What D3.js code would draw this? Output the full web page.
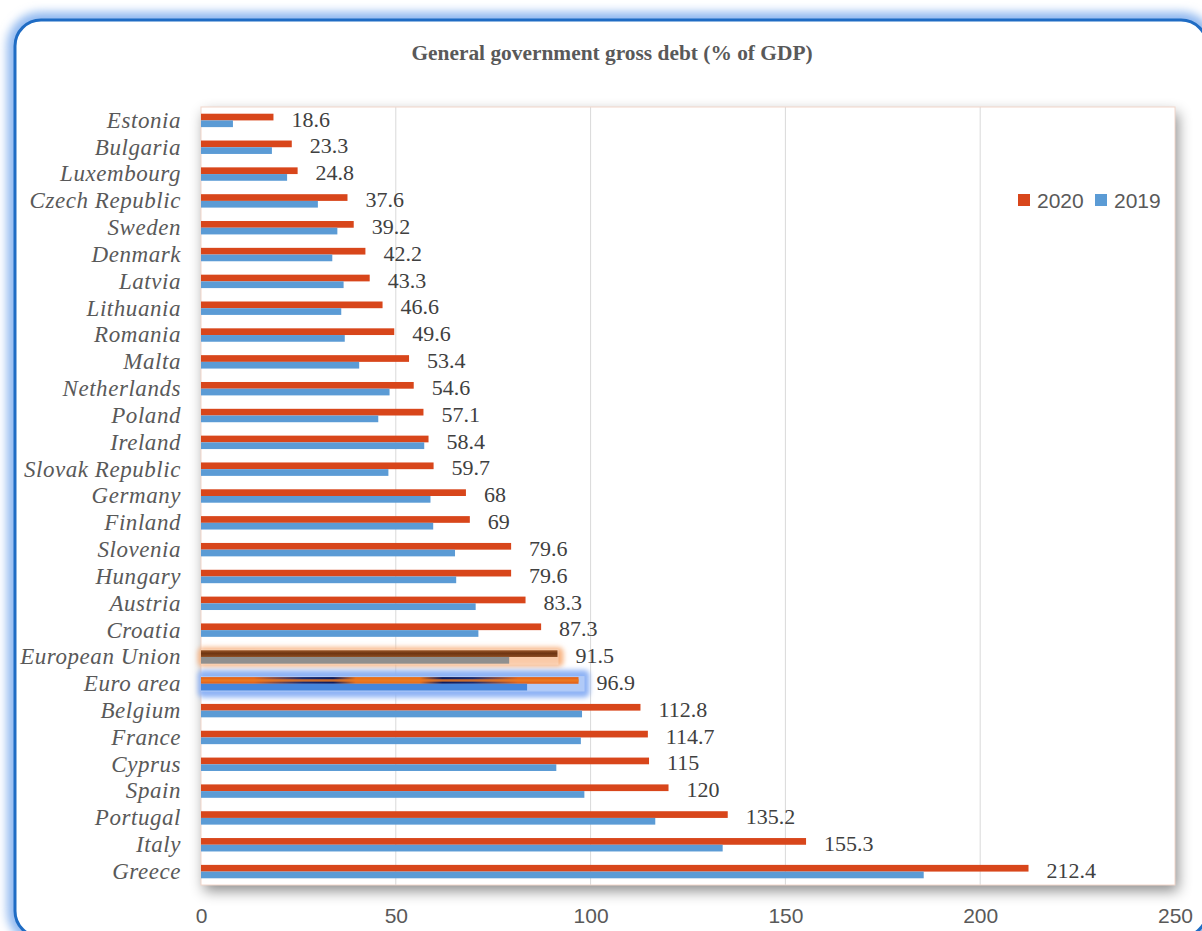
<!DOCTYPE html>
<html>
<head>
<meta charset="utf-8">
<script src="https://cdn.jsdelivr.net/npm/d3@7"></script>
<style>
  body { margin: 0; background: #ffffff; }
  svg { display: block; }
</style>
</head>
<body>
<script>
// General government gross debt, % of GDP
const categories = [
  "Estonia", "Bulgaria", "Luxembourg", "Czech Republic", "Sweden", "Denmark",
  "Latvia", "Lithuania", "Romania", "Malta", "Netherlands", "Poland", "Ireland",
  "Slovak Republic", "Germany", "Finland", "Slovenia", "Hungary", "Austria",
  "Croatia", "European Union", "Euro area", "Belgium", "France", "Cyprus",
  "Spain", "Portugal", "Italy", "Greece"
];
const debt2020 = [
  18.6, 23.3, 24.8, 37.6, 39.2, 42.2, 43.3, 46.6, 49.6, 53.4, 54.6, 57.1, 58.4,
  59.7, 68, 69, 79.6, 79.6, 83.3, 87.3, 91.5, 96.9, 112.8, 114.7, 115, 120,
  135.2, 155.3, 212.4
];
const debt2019 = [
  8.2, 18.2, 22.1, 30.0, 35.0, 33.7, 36.6, 36.0, 36.9, 40.6, 48.4, 45.5, 57.3,
  48.1, 58.9, 59.6, 65.2, 65.5, 70.5, 71.2, 79.1, 83.7, 97.8, 97.5, 91.2, 98.4,
  116.6, 133.9, 185.5
];
const seriesNames = ["2020", "2019"];
const xTicks = [0, 50, 100, 150, 200, 250];
const chartTitle = "General government gross debt (% of GDP)";

const W = 1202, H = 931;
const plot = { left: 201, right: 1175, top: 107, bottom: 885 };
const serif = "'Liberation Serif', 'Times New Roman', serif";
const sans = "'Liberation Sans', Arial, sans-serif";
const colors = { "2020": "#d8461b", "2019": "#5b9bd5" };

const rows = categories.map((c, i) => ({ name: c, "2020": debt2020[i], "2019": debt2019[i] }));

const svg = d3.select("body").append("svg").attr("width", W).attr("height", H);
const defs = svg.append("defs");

// soft blur used for the frame glow and row highlights
defs.append("filter").attr("id", "soft").attr("x", "-10%").attr("y", "-10%")
  .attr("width", "120%").attr("height", "120%")
  .append("feGaussianBlur").attr("stdDeviation", 5);

defs.append("filter").attr("id", "rowGlow").attr("x", "-20%").attr("y", "-100%")
  .attr("width", "140%").attr("height", "300%")
  .append("feGaussianBlur").attr("stdDeviation", 2.5);

const shadow = defs.append("filter").attr("id", "plotShadow")
  .attr("x", "-5%").attr("y", "-5%").attr("width", "112%").attr("height", "114%");
shadow.append("feDropShadow").attr("dx", 3).attr("dy", 6).attr("stdDeviation", 7)
  .attr("flood-color", "#000").attr("flood-opacity", 0.45);

// brown gradient for the EU 2020 bar
const gEU = defs.append("linearGradient").attr("id", "euRed").attr("x1", 0).attr("x2", 0).attr("y1", 0).attr("y2", 1);
gEU.append("stop").attr("offset", "0%").attr("stop-color", "#9a5628");
gEU.append("stop").attr("offset", "45%").attr("stop-color", "#6e3512");
gEU.append("stop").attr("offset", "100%").attr("stop-color", "#8a4a20");

// orange/navy gradient for the euro area 2020 bar
const gEA = defs.append("linearGradient").attr("id", "eaRed").attr("x1", 0).attr("x2", 1).attr("y1", 0).attr("y2", 0);
[[0, "#e4661c"], [0.14, "#e4661c"], [0.27, "#1a2a6e"], [0.35, "#0c1a5c"], [0.41, "#e8701c"],
 [0.58, "#e8701c"], [0.64, "#0c1a5c"], [0.72, "#1a2a6e"], [0.84, "#e4661c"], [1, "#e4661c"]]
  .forEach(([o, c]) => gEA.append("stop").attr("offset", o).attr("stop-color", c));

// outer frame with glow
svg.append("rect").attr("x", 15).attr("y", 20).attr("width", 1192).attr("height", 917)
  .attr("rx", 26).attr("fill", "none").attr("stroke", "#8fb8f0").attr("stroke-width", 16)
  .attr("filter", "url(#soft)");
svg.append("rect").attr("x", 15).attr("y", 20).attr("width", 1192).attr("height", 917)
  .attr("rx", 26).attr("fill", "#ffffff").attr("stroke", "#1f6cc4").attr("stroke-width", 3);

// title
svg.append("text").attr("x", 612).attr("y", 60).attr("text-anchor", "middle")
  .attr("font-family", serif).attr("font-weight", "bold").attr("font-size", 21.4)
  .attr("fill", "#595959").text(chartTitle);

// scales
const x = d3.scaleLinear().domain([0, 250]).range([plot.left, plot.right]);
const y = d3.scaleBand().domain(categories).range([plot.top, plot.bottom])
  .paddingInner(0.5).paddingOuter(0.25);
const ySub = d3.scaleBand().domain(seriesNames).range([0, y.bandwidth()]);

// plot area
svg.append("rect").attr("x", plot.left).attr("y", plot.top)
  .attr("width", plot.right - plot.left).attr("height", plot.bottom - plot.top)
  .attr("fill", "#ffffff").attr("filter", "url(#plotShadow)");

// vertical gridlines
svg.append("g").selectAll("line").data(xTicks.filter(t => t > 0 && t < 250)).join("line")
  .attr("x1", d => x(d)).attr("x2", d => x(d))
  .attr("y1", plot.top).attr("y2", plot.bottom)
  .attr("stroke", "#d9d9d9").attr("stroke-width", 1);

svg.append("rect").attr("x", plot.left).attr("y", plot.top)
  .attr("width", plot.right - plot.left).attr("height", plot.bottom - plot.top)
  .attr("fill", "none").attr("stroke", "#f2d6ca").attr("stroke-width", 1);

// highlight glows for the aggregate rows
const glowRows = [
  { name: "European Union", color: "#f8b482", pad: 3, grow: 3 },
  { name: "Euro area", color: "#8fb3f5", pad: 8, grow: 7 }
];
svg.append("g").selectAll("rect").data(glowRows).join("rect")
  .attr("x", plot.left - 3)
  .attr("y", d => y(d.name) - d.grow)
  .attr("width", d => x(rows.find(r => r.name === d.name)["2020"]) - plot.left + 6 + d.pad)
  .attr("height", d => y.bandwidth() + d.grow * 2)
  .attr("rx", 5)
  .attr("fill", d => d.color)
  .attr("filter", "url(#rowGlow)");
svg.append("g").selectAll("rect").data(glowRows).join("rect")
  .attr("x", plot.left)
  .attr("y", d => y(d.name) - 1)
  .attr("width", d => x(rows.find(r => r.name === d.name)["2020"]) - plot.left + d.pad - 2)
  .attr("height", y.bandwidth() + 2)
  .attr("fill", "#ffffff").attr("opacity", 0.3);

// bars
function barFill(name, s) {
  if (name === "European Union") return s === "2020" ? "url(#euRed)" : "#8f8f8f";
  if (name === "Euro area") return s === "2020" ? "url(#eaRed)" : "#4686dc";
  return colors[s];
}
const groups = svg.append("g").selectAll("g").data(rows).join("g")
  .attr("transform", d => `translate(0,${y(d.name)})`);
groups.selectAll("rect").data(d => seriesNames.map(s => ({ name: d.name, s, v: d[s] }))).join("rect")
  .attr("x", x(0))
  .attr("y", d => ySub(d.s))
  .attr("width", d => x(d.v) - x(0))
  .attr("height", ySub.bandwidth())
  .attr("fill", d => barFill(d.name, d.s));

// orange core line through the euro area 2020 bar
const ea = rows.find(r => r.name === "Euro area");
svg.append("rect").attr("x", x(0))
  .attr("y", y(ea.name) + ySub("2020") + ySub.bandwidth() / 2 - 1.2)
  .attr("width", x(ea["2020"]) - x(0)).attr("height", 2.4)
  .attr("fill", "#ec7a22").attr("opacity", 0.85);

// value labels for 2020
svg.append("g").selectAll("text").data(rows).join("text")
  .attr("x", d => x(d["2020"]) + 18)
  .attr("y", d => y(d.name) + y.bandwidth() / 2 - 1.5)
  .attr("dy", "0.35em")
  .attr("font-family", serif).attr("font-size", 22).attr("fill", "#404040")
  .text(d => d["2020"]);

// category axis
const yAxis = svg.append("g").attr("transform", `translate(${plot.left},0)`)
  .call(d3.axisLeft(y).tickSize(0).tickPadding(20));
yAxis.select(".domain").remove();
yAxis.selectAll("text").attr("font-family", serif).attr("font-style", "italic")
  .attr("font-size", 23).attr("letter-spacing", "0.55px")
  .attr("fill", "#595959").attr("dy", "0.32em");

// value axis
const xAxis = svg.append("g").attr("transform", `translate(0,${plot.bottom})`)
  .call(d3.axisBottom(x).tickValues(xTicks).tickSize(0).tickPadding(23));
xAxis.select(".domain").remove();
xAxis.selectAll("text").attr("font-family", sans).attr("font-size", 21).attr("fill", "#595959");

// legend
const legend = svg.append("g").attr("transform", "translate(1018,194)");
const items = legend.selectAll("g").data(seriesNames).join("g")
  .attr("transform", (d, i) => `translate(${i * 77},0)`);
items.append("rect").attr("width", 12).attr("height", 12).attr("fill", d => colors[d]);
items.append("text").attr("x", 19).attr("y", 13.5)
  .attr("font-family", sans).attr("font-size", 21).attr("fill", "#595959").text(d => d);
</script>
</body>
</html>
